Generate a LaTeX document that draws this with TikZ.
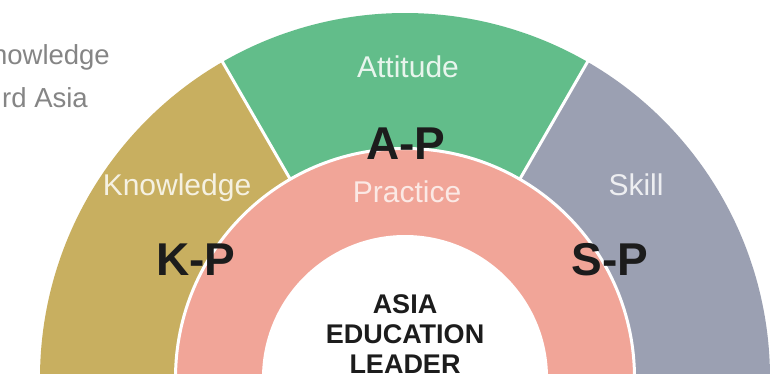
\documentclass[tikz,border=0pt]{standalone}
\usepackage{fontspec}
\setmainfont{Liberation Sans}
\definecolor{goldc}{HTML}{C8AF60}
\definecolor{greenc}{HTML}{62BD8A}
\definecolor{grayc}{HTML}{9BA0B2}
\definecolor{pinkc}{HTML}{F1A598}
\definecolor{darktext}{HTML}{1C1C1C}
\definecolor{sidetext}{HTML}{858585}
\tikzset{
  sepline/.style={white,line width=3pt},
  seglabel/.style={anchor=base,inner sep=0pt,font=\fontsize{30}{36}\selectfont},
  pairlabel/.style={anchor=base,inner sep=0pt,text=darktext,font=\fontsize{46}{50}\selectfont\bfseries},
  centerlabel/.style={anchor=base,inner sep=0pt,text=darktext,font=\fontsize{27}{30}\selectfont\bfseries},
  sidelabel/.style={anchor=base east,inner sep=0pt,text=sidetext,font=\fontsize{27.5}{30}\selectfont},
}
\begin{document}
\begin{tikzpicture}[x=1pt,y=1pt]
\useasboundingbox (0,0) rectangle (781,-374);
\clip (0,0) rectangle (781,-374);
\fill[white] (0,0) rectangle (781,-374);
\coordinate (C) at (405,-378);
% outer ring sectors
\fill[goldc] (C) -- ++(120:365pt) arc[start angle=120,end angle=180,radius=365pt] -- cycle;
\fill[greenc] (C) -- ++(60:365pt) arc[start angle=60,end angle=120,radius=365pt] -- cycle;
\fill[grayc] (C) -- ++(0:365pt) arc[start angle=0,end angle=60,radius=365pt] -- cycle;
% separators
\draw[sepline] (C) -- ++(60:366pt);
\draw[sepline] (C) -- ++(120:366pt);
% practice ring
\fill[pinkc] (C) circle[radius=229pt];
\draw[sepline] (C) circle[radius=229.5pt];
\fill[white] (C) circle[radius=143pt];
% side text (cut off)
\node[sidelabel] (t1) at (110,-65) {nowledge};
\node[sidelabel] (t2) at (88,-108) {rd Asia};
% segment labels
\node[seglabel,text=white!85!greenc] (att) at (408,-78) {Attitude};
\node[seglabel,text=white!82!goldc] (kno) at (177,-195) {Knowledge};
\node[seglabel,text=white!82!grayc] (ski) at (636,-195) {Skill};
\node[seglabel,text=white!75!pinkc] (pra) at (407,-202) {Practice};
% pair labels
\node[pairlabel] (ap) at (406,-160) {A-P};
\node[pairlabel] (kp) at (196,-275) {K-P};
\node[pairlabel] (sp) at (610,-275) {S-P};
% centre
\node[centerlabel] (asia) at (405,-313) {ASIA};
\node[centerlabel] (edu) at (405,-343) {EDUCATION};
\node[centerlabel] (lead) at (405,-373) {LEADER};
\end{tikzpicture}
\end{document}
